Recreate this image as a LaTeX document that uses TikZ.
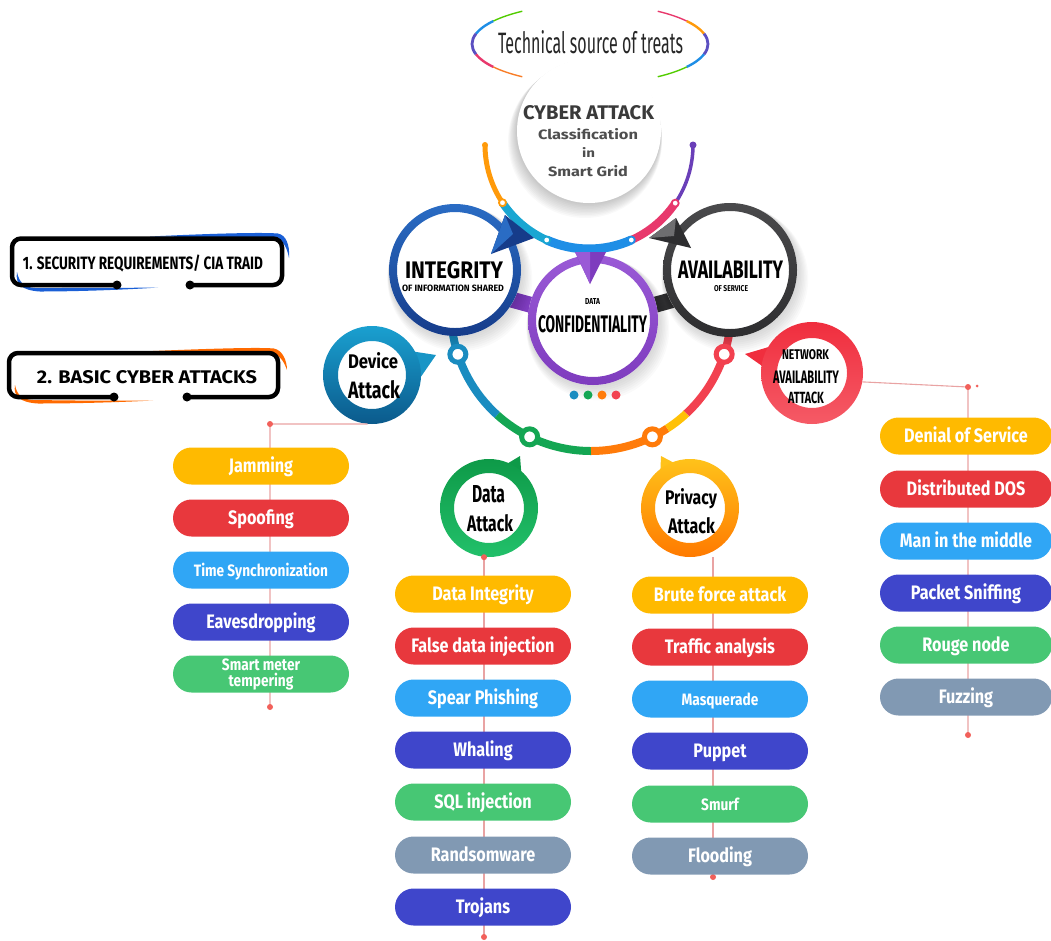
\documentclass[tikz,border=0pt]{standalone}
\usepackage{fontspec}
\usepackage{graphicx}
\setmainfont{Fira Sans}
\newfontfamily\fpill{Fira Sans}[FakeStretch=0.83]
\usetikzlibrary{calc}
\definecolor{cYel}{HTML}{FFBA00}
\definecolor{cRed}{HTML}{E8383D}
\definecolor{cLbl}{HTML}{30A6F5}
\definecolor{cInd}{HTML}{3F46CB}
\definecolor{cGrn}{HTML}{47C774}
\definecolor{cGry}{HTML}{8199B3}
\definecolor{cIntA}{HTML}{2A6CC4}
\definecolor{cIntB}{HTML}{163C8A}
\definecolor{cConfA}{HTML}{9A5AD6}
\definecolor{cConfB}{HTML}{7E3CBE}
\definecolor{cAvlA}{HTML}{4A4A4C}
\definecolor{cAvlB}{HTML}{2E2E30}
\definecolor{cDevA}{HTML}{1AA0D0}
\definecolor{cDevB}{HTML}{0B5A8C}
\definecolor{cDatA}{HTML}{0E9A48}
\definecolor{cDatB}{HTML}{22C06A}
\definecolor{cPrvA}{HTML}{FFC21A}
\definecolor{cPrvB}{HTML}{FF7A00}
\definecolor{cNetA}{HTML}{F02E3E}
\definecolor{cNetB}{HTML}{F55A66}
\definecolor{cLine}{HTML}{E9A3A3}
\definecolor{cDot}{HTML}{F2605A}
\definecolor{cTxt}{HTML}{3A3A3A}
\definecolor{aOra}{HTML}{FF9A0A}
\definecolor{aTeal}{HTML}{19A6D2}
\definecolor{aBlue}{HTML}{1E8EE6}
\definecolor{aPink}{HTML}{E8386C}
\definecolor{aPur}{HTML}{6A3FB8}
\definecolor{lTeal}{HTML}{1A8CC0}
\definecolor{lGrn}{HTML}{14A653}
\definecolor{lOra}{HTML}{FF7B0A}
\definecolor{lYel}{HTML}{FFC107}
\definecolor{lRed}{HTML}{F2414F}
\definecolor{bBlue}{HTML}{1A5FD6}
\definecolor{bOra}{HTML}{FF6A00}
\newcommand{\fitto}[3]{\resizebox{#1pt}{#2pt}{#3}}
\begin{document}
\begin{tikzpicture}[x=1pt,y=-1pt,
  pillbase/.style={rectangle, rounded corners=18.5pt, minimum width=176pt, minimum height=37pt, inner sep=0pt, text=white},
  pill/.style={pillbase, text height=13.5pt, text depth=0pt, font=\fpill\bfseries\fontsize{19.5}{20}\selectfont},
  pillS/.style={pillbase, text height=12pt, text depth=0pt, font=\fpill\bfseries\fontsize{16.5}{17}\selectfont},
  pilltwo/.style={pillbase, align=center, font=\fpill\bfseries\fontsize{16.5}{16}\selectfont},
  lbl/.style={inner sep=0pt, anchor=base},
  hub/.style={circle, inner sep=0pt, minimum size=#1},
  link/.style={draw=cLine, line width=1.1pt},
  jdot/.style={circle, fill=cDot, inner sep=0pt, minimum size=6pt},
  jnode/.style={draw=#1, fill=white, line width=5pt},
]
\useasboundingbox (0,0) rectangle (1051,940);

% ---------- title ----------
\draw[line width=1.4pt, color=green!60!yellow!80!black] (590,44) ++(235:118 and 40) arc[start angle=235, end angle=215, x radius=118, y radius=40];
\draw[line width=2.4pt, color=aBlue] (590,44) ++(215:118 and 40) arc[start angle=215, end angle=195, x radius=118, y radius=40];
\draw[line width=2.8pt, color=aPur!80!aBlue] (590,44) ++(195:118 and 40) arc[start angle=195, end angle=165, x radius=118, y radius=40];
\draw[line width=2.4pt, color=aPink] (590,44) ++(165:118 and 40) arc[start angle=165, end angle=145, x radius=118, y radius=40];
\draw[line width=1.4pt, color=aOra!70!aPink] (590,44) ++(145:118 and 40) arc[start angle=145, end angle=125, x radius=118, y radius=40];
\draw[line width=1.4pt, color=aPink] (590,44) ++(-55:118 and 40) arc[start angle=-55, end angle=-35, x radius=118, y radius=40];
\draw[line width=2.4pt, color=aOra] (590,44) ++(-35:118 and 40) arc[start angle=-35, end angle=-15, x radius=118, y radius=40];
\draw[line width=2.8pt, color=aPur!80!aBlue] (590,44) ++(-15:118 and 40) arc[start angle=-15, end angle=15, x radius=118, y radius=40];
\draw[line width=2.4pt, color=aBlue] (590,44) ++(15:118 and 40) arc[start angle=15, end angle=35, x radius=118, y radius=40];
\draw[line width=1.4pt, color=green!60!yellow!80!black] (590,44) ++(35:118 and 40) arc[start angle=35, end angle=55, x radius=118, y radius=40];
\node[lbl, text=black!85] (title) at (590.5,53) {\fitto{185}{23}{\fontsize{30}{30}\selectfont Technical source of treats}};

% ---------- top circle ----------
\foreach \k in {1,...,10} {\fill[black, opacity=0.022] (589-\k*0.4,131+\k*1.0) circle[radius=72+\k*0.5];}
\node[hub=144pt, fill=white] (top) at (589,131) {};
\node[lbl, text=cTxt] (tA) at (588.5,119) {\fitto{131}{14}{\bfseries CYBER ATTACK}};
\node[lbl, text=cTxt!90] (tB) at (588,139) {\fitto{100}{11}{\bfseries Classification}};
\node[lbl, text=cTxt!90] (tC) at (588.5,157) {\fitto{13}{10}{\bfseries in}};
\node[lbl, text=cTxt!90] (tD) at (588,176) {\fitto{80}{11}{\bfseries Smart Grid}};

% ---------- lower arc ----------
\draw[line width=8pt, lTeal] (591,311) ++(171:140) arc[start angle=171, end angle=132, radius=140];
\draw[line width=8pt, lGrn] (591,311) ++(132:140) arc[start angle=132, end angle=90, radius=140];
\draw[line width=8pt, lOra] (591,311) ++(90:140) arc[start angle=90, end angle=57, radius=140];
\draw[line width=8pt, lYel] (591,311) ++(57:140) arc[start angle=57, end angle=47, radius=140];
\draw[line width=8pt, lRed] (591,311) ++(47:140) arc[start angle=47, end angle=9, radius=140];

% ---------- bands ----------
\draw[line width=16pt, cConfB] (455,284) -- (593,322);
\draw[line width=16pt, cAvlB] (593,322) -- (730,284);

% ---------- big circles ----------
\node[hub=132pt] (integ) at (455,270) {};
\node[hub=130pt] (conf) at (593,320) {};
\node[hub=134pt] (avail) at (730,270) {};
\foreach \cx/\cy/\r in {455/270/66, 593/320/65, 730/270/67} {
  \foreach \k in {1,...,8} {\fill[black, opacity=0.02] (\cx+\k*0.6,\cy+\k*1.1) circle[radius=\r+\k*0.8];}
}
\fill[white] (integ.center) circle[radius=66];
\fill[white] (conf.center) circle[radius=65];
\fill[white] (avail.center) circle[radius=67];
\shade[top color=cIntA, bottom color=cIntB, even odd rule] (integ.center) circle[radius=66] (integ.center) circle[radius=58];
\shade[top color=cConfA, bottom color=cConfB, even odd rule] (conf.center) circle[radius=65] (conf.center) circle[radius=57];
\shade[top color=cAvlA, bottom color=cAvlB, even odd rule] (avail.center) circle[radius=67] (avail.center) circle[radius=59];
\node[lbl] (iA) at (454,278.5) {\fitto{98}{17}{\bfseries INTEGRITY}};
\node[lbl] (iB) at (453,291) {\fitto{102}{6.5}{\bfseries OF INFORMATION SHARED}};
\node[lbl] (cA) at (592.5,304) {\fitto{15}{6}{\bfseries DATA}};
\node[lbl] (cB) at (592.5,332) {\fitto{109}{17}{\bfseries CONFIDENTIALITY}};
\node[lbl] (vA) at (730.5,278.5) {\fitto{105}{17.5}{\bfseries AVAILABILITY}};
\node[lbl] (vB) at (731,291.5) {\fitto{34}{6}{\bfseries OF SERVICE}};

% ---------- top arc ----------
\draw[line width=5pt, aOra] (589,145) ++(180:104) arc[start angle=180, end angle=146.3, radius=104];
\draw[line width=8pt, aTeal] (589,145) ++(146.3:104) arc[start angle=146.3, end angle=114, radius=104];
\draw[line width=9pt, aBlue] (589,145) ++(114:104) arc[start angle=114, end angle=66, radius=104];
\draw[line width=8pt, aPink] (589,145) ++(66:104) arc[start angle=66, end angle=34, radius=104];
\draw[line width=3.5pt, aPur] (589,145) ++(34:104) arc[start angle=34, end angle=0, radius=104];
\fill[aOra] (485,145) circle[radius=3];
\fill[aPur] (693,145) circle[radius=3.5];
\draw[aOra, fill=white, line width=1.8pt] (589,145) ++(146.3:104) circle[radius=3.5];
\draw[aTeal, fill=white, line width=1.8pt] (589,145) ++(114:104) circle[radius=3.5];
\draw[aBlue, fill=white, line width=1.8pt] (589,145) ++(66:104) circle[radius=3.5];
\draw[aPink, fill=white, line width=1.8pt] (589,145) ++(34:104) circle[radius=3.5];
% pointers
\fill[cIntB] (505,215) -- (491,254) -- (534,238) -- cycle;
\fill[cIntA] (505,215) -- (491,254) -- (513,234) -- cycle;
\fill[cConfB] (575,252) -- (606,252) -- (590,284) -- cycle;
\fill[cConfA] (575,252) -- (590,252) -- (590,284) -- cycle;
\fill[cAvlB] (676,218) -- (649,238) -- (691,248) -- cycle;
\fill[cAvlA!80] (676,218) -- (649,238) -- (674,236) -- cycle;

% ---------- ring junctions on lower arc ----------
\draw[jnode=lTeal] (591,311) ++(162:140) circle[radius=8];
\draw[jnode=lGrn] (591,311) ++(116:140) circle[radius=8];
\draw[jnode=lOra] (591,311) ++(64:140) circle[radius=8];
\draw[jnode=lRed] (591,311) ++(18:140) circle[radius=8];

% ---------- four dots ----------
\fill[lTeal] (574,395) circle[radius=4.5];
\fill[lGrn] (588,395) circle[radius=4.5];
\fill[lOra] (602,395) circle[radius=4.5];
\fill[lRed] (616,395) circle[radius=4.5];

% ---------- attack circles ----------
\node[hub=98pt] (dev) at (372,375) {};
\node[hub=98pt] (data) at (489,508) {};
\node[hub=98pt] (prv) at (690,508) {};
\node[hub=102pt] (net) at (812,373) {};
\fill[cDevA!85!cDevB] (410,351) -- (436,355) -- (418,381) -- cycle;
\shade[top color=cDevA, bottom color=cDevB, even odd rule] (dev.center) circle[radius=49] (dev.center) circle[radius=34];
\fill[cDatA] (500,468) -- (520,456) -- (522,482) -- cycle;
\shade[top color=cDatA, bottom color=cDatB, even odd rule] (data.center) circle[radius=49] (data.center) circle[radius=35];
\fill[cPrvA] (661,456) -- (660,480) -- (680,466) -- cycle;
\shade[top color=cPrvA, bottom color=cPrvB, even odd rule] (prv.center) circle[radius=49] (prv.center) circle[radius=35];
\fill[cNetA] (745,354) -- (772,346) -- (765,368) -- cycle;
\shade[top color=cNetA, bottom color=cNetB, even odd rule] (net.center) circle[radius=51] (net.center) circle[radius=35];
\node[lbl] (devA) at (373,368) {\fitto{50}{16}{\bfseries Device}};
\node[lbl] (devB) at (374,398) {\fitto{52}{18}{\bfseries Attack}};
\node[lbl] (datA) at (488.5,502) {\fitto{33}{17}{\bfseries Data}};
\node[lbl] (datB) at (490,531) {\fitto{46}{17}{\bfseries Attack}};
\node[lbl] (prvA) at (691,504) {\fitto{52}{16}{\bfseries Privacy}};
\node[lbl] (prvB) at (691.5,533) {\fitto{47}{16}{\bfseries Attack}};
\node[lbl] (netA) at (805.5,359) {\fitto{47}{10}{\bfseries NETWORK}};
\node[lbl] (netB) at (806,383) {\fitto{66}{12.5}{\bfseries AVAILABILITY}};
\node[lbl] (netC) at (806,403) {\fitto{36}{11.5}{\bfseries ATTACK}};

% ---------- connectors ----------
\coordinate (dTop) at (270,424);
\coordinate (dBot) at (270,707);
\coordinate (aBot) at (484,937);
\coordinate (pBot) at (713,877);
\coordinate (nTop) at (968,387);
\coordinate (nBot) at (968,735);
\draw[link] (dev.265) -- (dTop) -- (dBot);
\draw[link] (data.south -| aBot) -- (aBot);
\draw[link] (prv.south -| pBot) -- (pBot);
\draw[link] (net.-10) -- (nTop) -- (nBot);
\node[jdot] (dTopDot) at (dTop) {};
\node[jdot] (dBotDot) at (dBot) {};
\node[jdot] (aTopDot) at (data.south -| aBot) {};
\node[jdot] (aBotDot) at (aBot) {};
\node[jdot] (pBotDot) at (pBot) {};
\node[jdot] (nTopDot) at (nTop) {};
\node[jdot, minimum size=3pt] (nTopDot2) at (977,386) {};
\node[jdot] (nBotDot) at (nBot) {};

% ---------- pills ----------
\node[pill, fill=cYel] (d1) at (261,466) {Jamming};
\node[pill, fill=cRed] (d2) at (261,518) {Spoofing};
\node[pillS, fill=cLbl] (d3) at (261,570) {Time Synchronization};
\node[pill, fill=cInd] (d4) at (261,622) {Eavesdropping};
\node[pilltwo, fill=cGrn] (d5) at (261,674) {Smart meter\\tempering};

\node[pill, fill=cYel] (a1) at (483,594) {Data Integrity};
\node[pill, fill=cRed] (a2) at (483,646) {False data injection};
\node[pill, fill=cLbl] (a3) at (483,698) {Spear Phishing};
\node[pill, fill=cInd] (a4) at (483,750) {Whaling};
\node[pill, fill=cGrn] (a5) at (483,802) {SQL injection};
\node[pill, fill=cGry] (a6) at (483,855) {Randsomware};
\node[pill, fill=cInd] (a7) at (483,907) {Trojans};

\node[pill, fill=cYel] (p1) at (720,595) {Brute force attack};
\node[pill, fill=cRed] (p2) at (720,647) {Traffic analysis};
\node[pillS, fill=cLbl] (p3) at (720,699) {Masquerade};
\node[pill, fill=cInd] (p4) at (720,751) {Puppet};
\node[pillS, fill=cGrn] (p5) at (720,804) {Smurf};
\node[pill, fill=cGry] (p6) at (720,856) {Flooding};

\node[pill, minimum width=172pt, fill=cYel] (n1) at (966,436) {Denial of Service};
\node[pill, minimum width=172pt, fill=cRed] (n2) at (966,489) {Distributed DOS};
\node[pill, minimum width=172pt, fill=cLbl] (n3) at (966,541) {Man in the middle};
\node[pill, minimum width=172pt, fill=cInd] (n4) at (966,593) {Packet Sniffing};
\node[pill, minimum width=172pt, fill=cGrn] (n5) at (966,645) {Rouge node};
\node[pill, minimum width=172pt, fill=cGry] (n6) at (966,697) {Fuzzing};

% ---------- left boxes ----------
\fill[bBlue] (150,236.5) .. controls (200,234) and (260,232) .. (278,233.5) .. controls (286,235) and (290,245) .. (289,258) .. controls (287,248) and (284,241) .. (276,238) .. controls (240,237) and (190,237) .. cycle;
\fill[bBlue] (17,272) .. controls (15,284) and (22,290.5) .. (40,291.5) .. controls (80,291.5) and (130,289.5) .. (158,287.5) .. controls (120,288) and (70,288) .. (35,288) .. controls (24,287.5) and (19,282) .. cycle;
\draw[line width=4.5pt, rounded corners=9pt] (117,285) -- (12,285) -- (12,238.5) -- (282,238.5) -- (282,285) -- (190,285);
\fill (117,285) circle[radius=4.5];
\fill (190,285) circle[radius=4.5];
\node[lbl] (box1) at (143,269) {\fitto{240}{12.7}{\bfseries 1. SECURITY REQUIREMENTS\smash{/} CIA TRAID}};

\fill[bOra] (153,351) .. controls (200,349) and (258,347) .. (274,348.5) .. controls (282,350) and (287,360) .. (287,370) .. controls (284,362) and (281,356) .. (272,353) .. controls (240,352) and (190,352) .. cycle;
\fill[bOra] (15,385) .. controls (13,396) and (20,402.5) .. (38,403.5) .. controls (80,403.5) and (125,402) .. (153,400.5) .. controls (115,401) and (70,400.5) .. (33,400) .. controls (22,399.5) and (17,395) .. cycle;
\draw[line width=4.5pt, rounded corners=9pt] (114,397) -- (9,397) -- (9,353) -- (278,353) -- (278,397) -- (187,397);
\fill (114,397) circle[radius=4.5];
\fill (187,397) circle[radius=4.5];
\node[lbl] (box2) at (147,383) {\fitto{220}{13}{\bfseries 2. BASIC CYBER ATTACKS}};
\end{tikzpicture}
\end{document}
